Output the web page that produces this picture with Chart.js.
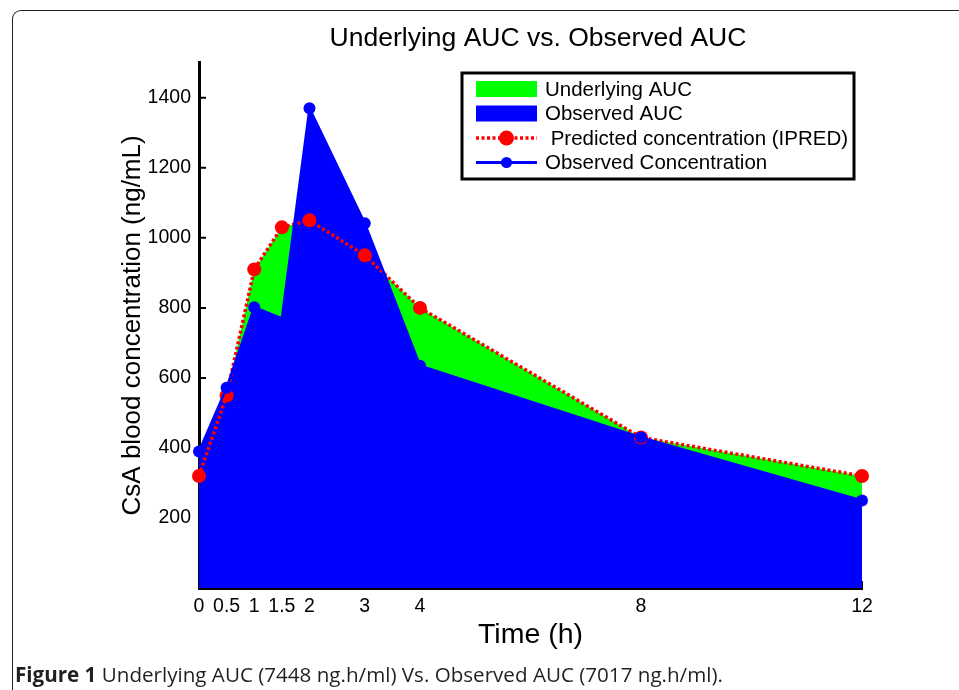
<!DOCTYPE html>
<html>
<head>
<meta charset="utf-8">
<script src="https://cdn.jsdelivr.net/npm/chart.js@4.4.1/dist/chart.umd.min.js"></script>
<style>
    html, body { margin: 0; padding: 0; background: #fff; }
    #wrap { position: relative; width: 959px; height: 690px; overflow: hidden; }
    #frame {
        position: absolute; left: 12px; top: 10px; width: 980px; height: 720px;
        border-left: 1.5px solid #222; border-top: 1.5px solid #222;
        border-top-left-radius: 9px;
    }
    #chart { position: absolute; left: 0; top: 0; }
    #caption {
        position: absolute; left: 15px; top: 660px;
        font-family: "Open Sans", sans-serif;
        font-size: 20.6px; color: #231f20; white-space: nowrap;
    }
</style>
</head>
<body>
<div id="wrap">
    <div id="frame"></div>
    <canvas id="chart" width="959" height="690"></canvas>
    <div id="caption"><b>Figure 1</b> Underlying AUC (7448 ng.h/ml) Vs. Observed AUC (7017 ng.h/ml).</div>
</div>
<script>
// ===============================
// DATA
// ===============================

const timePoints = [0, 0.5, 1, 1.5, 2, 3, 4, 8, 12];
const predictedConc = [320, 550, 910, 1030, 1050, 950, 800, 430, 320];
const observedConc = [390, 572, 802, 770, 1370, 1042, 635, 430, 250];
const observedMarker = [true, true, true, false, true, true, true, true, true];

const xTickValues = [0, 0.5, 1, 1.5, 2, 3, 4, 8, 12];
const yTickValues = [200, 400, 600, 800, 1000, 1200, 1400];

const toPoints = (vals) => timePoints.map((t, i) => ({ x: t, y: vals[i] }));

// ===============================
// PLUGINS
// ===============================

// small inward tick marks (drawn under the fills, like the original)
const innerTicks = {
    id: "innerTicks",
    beforeDatasetsDraw(chart) {
        const { ctx, chartArea } = chart;
        const ys = chart.scales.y;
        const xs = chart.scales.x;
        ctx.save();
        ctx.strokeStyle = "#000";
        ctx.lineWidth = 2;
        ctx.beginPath();
        yTickValues.forEach(v => {
            const py = ys.getPixelForValue(v);
            ctx.moveTo(chartArea.left, py);
            ctx.lineTo(chartArea.left + 7, py);
        });
        xTickValues.forEach(v => {
            const px = xs.getPixelForValue(v);
            ctx.moveTo(px, chartArea.bottom);
            ctx.lineTo(px, chartArea.bottom - 7);
        });
        ctx.stroke();
        ctx.restore();
    }
};

// boxed legend, upper right
const boxLegend = {
    id: "boxLegend",
    afterDraw(chart, args, opts) {
        const ctx = chart.ctx;
        const sets = chart.data.datasets;
        ctx.save();
        ctx.fillStyle = "#fff";
        ctx.fillRect(opts.x, opts.y, opts.w, opts.h);
        ctx.lineWidth = 3;
        ctx.strokeStyle = "#000";
        ctx.strokeRect(opts.x, opts.y, opts.w, opts.h);

        ctx.font = "20.5px 'Liberation Sans', Arial, sans-serif";
        ctx.textBaseline = "middle";

        opts.order.forEach((idx, row) => {
            const ds = sets[idx];
            const cy = opts.y + opts.firstRow + row * opts.rowGap;
            const x0 = opts.x + 14, x1 = opts.x + 75;
            if (ds.fill) {
                ctx.fillStyle = ds.backgroundColor;
                ctx.fillRect(x0, cy - 8, x1 - x0, 16);
            } else {
                ctx.strokeStyle = ds.borderColor;
                ctx.lineWidth = ds.legendWidth;
                ctx.setLineDash(ds.borderDash || []);
                ctx.beginPath();
                ctx.moveTo(x0, cy);
                ctx.lineTo(x1, cy);
                ctx.stroke();
                ctx.setLineDash([]);
                ctx.fillStyle = ds.pointBackgroundColor;
                ctx.beginPath();
                ctx.arc((x0 + x1) / 2, cy, ds.legendRadius, 0, Math.PI * 2);
                ctx.fill();
            }
            ctx.fillStyle = "#000";
            ctx.fillText(ds.label, opts.x + 83, cy + 1);
        });
        ctx.restore();
    }
};

// ===============================
// CHART
// ===============================

Chart.defaults.font.family = "'Liberation Sans', Arial, sans-serif";
Chart.defaults.color = "#000";

const ctx = document.getElementById("chart").getContext("2d");

new Chart(ctx, {
    type: "line",
    data: {
        datasets: [
            {
                label: "Observed Concentration",
                data: toPoints(observedConc),
                borderColor: "#0000ff",
                borderWidth: 2.5,
                pointRadius: observedMarker.map(m => m ? 6 : 0),
                pointBackgroundColor: "#0000ff",
                pointBorderWidth: 0,
                legendRadius: 5.5,
                legendWidth: 3,
                fill: false,
                clip: false,
                tension: 0,
                order: 0
            },
            {
                label: " Predicted concentration (IPRED)",
                data: toPoints(predictedConc),
                borderColor: "#ff0000",
                borderWidth: 3.5,
                borderDash: [3, 2.5],
                pointRadius: 7,
                pointBackgroundColor: "#ff0000",
                pointBorderWidth: 0,
                legendRadius: 7.5,
                legendWidth: 3.5,
                fill: false,
                clip: false,
                tension: 0,
                order: 1
            },
            {
                label: "Observed AUC",
                data: toPoints(observedConc),
                borderWidth: 0,
                borderColor: "rgba(0,0,0,0)",
                backgroundColor: "#0000ff",
                pointRadius: 0,
                fill: "origin",
                tension: 0,
                order: 2
            },
            {
                label: "Underlying AUC",
                data: toPoints(predictedConc),
                borderWidth: 0,
                borderColor: "rgba(0,0,0,0)",
                backgroundColor: "#00ff00",
                pointRadius: 0,
                fill: "origin",
                tension: 0,
                order: 3
            }
        ]
    },
    options: {
        responsive: false,
        animation: false,
        layout: {
            padding: { left: 117, right: 0, top: 0, bottom: 40 }
        },
        plugins: {
            legend: { display: false },
            tooltip: { enabled: false },
            title: {
                display: true,
                text: "Underlying AUC vs. Observed AUC",
                color: "#000",
                font: { size: 26.5, weight: "normal" },
                padding: { top: 23, bottom: 8 }
            },
            boxLegend: {
                x: 462, y: 73, w: 392, h: 106,
                firstRow: 16, rowGap: 24.5,
                order: [3, 2, 1, 0]
            }
        },
        scales: {
            x: {
                type: "linear",
                min: 0,
                max: 12,
                afterBuildTicks: (s) => { s.ticks = xTickValues.map(v => ({ value: v })); },
                afterFit: (s) => { s.height = 62; },
                grid: { display: false, drawTicks: false },
                border: { display: true, color: "#000", width: 3 },
                ticks: {
                    autoSkip: false,
                    maxRotation: 0,
                    padding: 7,
                    color: "#000",
                    font: { size: 19.5 },
                    callback: (v) => String(v)
                },
                title: {
                    display: true,
                    text: "Time (h)",
                    color: "#000",
                    font: { size: 28.5 },
                    padding: { top: 0, bottom: -2 }
                }
            },
            y: {
                min: 0,
                max: 1500,
                afterBuildTicks: (s) => { s.ticks = yTickValues.map(v => ({ value: v })); },
                afterFit: (s) => { s.width = 82; },
                grid: { display: false, drawTicks: false },
                border: { display: true, color: "#000", width: 3 },
                ticks: {
                    padding: 8,
                    color: "#000",
                    font: { size: 19.5 },
                    callback: (v) => String(v)
                },
                title: {
                    display: true,
                    text: "CsA blood concentration (ng/mL)",
                    color: "#000",
                    font: { size: 26 },
                    padding: 0
                }
            },
            // empty right-hand gutter so the plot ends where the original does
            gutter: {
                position: "right",
                display: true,
                afterFit: (s) => { s.width = 97; },
                grid: { display: false, drawTicks: false },
                border: { display: false },
                ticks: { display: false }
            }
        }
    },
    plugins: [innerTicks, boxLegend]
});
</script>
</body>
</html>
